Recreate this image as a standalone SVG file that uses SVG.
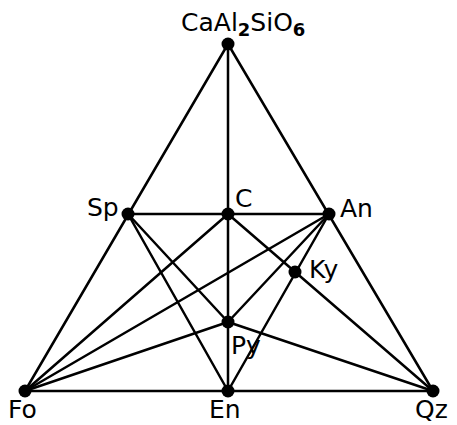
<svg xmlns="http://www.w3.org/2000/svg" width="457" height="425" viewBox="0 0 457 425">
<style>
.ln{stroke:#000;stroke-width:2.5;fill:none;stroke-linecap:round}
.pt{fill:#000}
.lb{font-family:"DejaVu Sans","Liberation Sans",sans-serif;font-size:25px;fill:#000}
</style>
<rect width="457" height="425" fill="#fff"/>
<g id="connectors">
<line class="ln" x1="228" y1="44" x2="25" y2="391"/>
<line class="ln" x1="228" y1="44" x2="433" y2="391"/>
<line class="ln" x1="25" y1="391" x2="433" y2="391"/>
<line class="ln" x1="228" y1="44" x2="228" y2="391"/>
<line class="ln" x1="128" y1="214" x2="329" y2="214"/>
<line class="ln" x1="128" y1="214" x2="228" y2="391"/>
<line class="ln" x1="128" y1="214" x2="228" y2="322"/>
<line class="ln" x1="25" y1="391" x2="228" y2="214"/>
<line class="ln" x1="25" y1="391" x2="329" y2="214"/>
<line class="ln" x1="25" y1="391" x2="228" y2="322"/>
<line class="ln" x1="329" y1="214" x2="228" y2="322"/>
<line class="ln" x1="329" y1="214" x2="228" y2="391"/>
<line class="ln" x1="228" y1="214" x2="433" y2="391"/>
<line class="ln" x1="228" y1="322" x2="433" y2="391"/>
</g>
<g id="apex"><circle class="pt" cx="228" cy="44" r="6.5"/><text class="lb" x="181" y="31">CaAl<tspan dy="5" font-size="18" font-weight="bold">2</tspan><tspan dy="-5">SiO</tspan><tspan dy="5" font-size="18" font-weight="bold">6</tspan></text></g>
<g id="Sp"><circle class="pt" cx="128" cy="214" r="6.5"/><text class="lb" x="87" y="216">Sp</text></g>
<g id="C"><circle class="pt" cx="228" cy="214" r="6.5"/><text class="lb" x="235" y="207">C</text></g>
<g id="An"><circle class="pt" cx="329" cy="214" r="6.5"/><text class="lb" x="340" y="217">An</text></g>
<g id="Ky"><circle class="pt" cx="295" cy="272" r="6.5"/><text class="lb" x="309" y="278">Ky</text></g>
<g id="Py"><circle class="pt" cx="228" cy="322" r="6.5"/><text class="lb" x="231" y="354">Py</text></g>
<g id="Fo"><circle class="pt" cx="25" cy="391" r="6.5"/><text class="lb" x="8" y="418">Fo</text></g>
<g id="En"><circle class="pt" cx="228" cy="391" r="6.5"/><text class="lb" x="209" y="418">En</text></g>
<g id="Qz"><circle class="pt" cx="433" cy="391" r="6.5"/><text class="lb" x="415" y="418">Qz</text></g>
</svg>
